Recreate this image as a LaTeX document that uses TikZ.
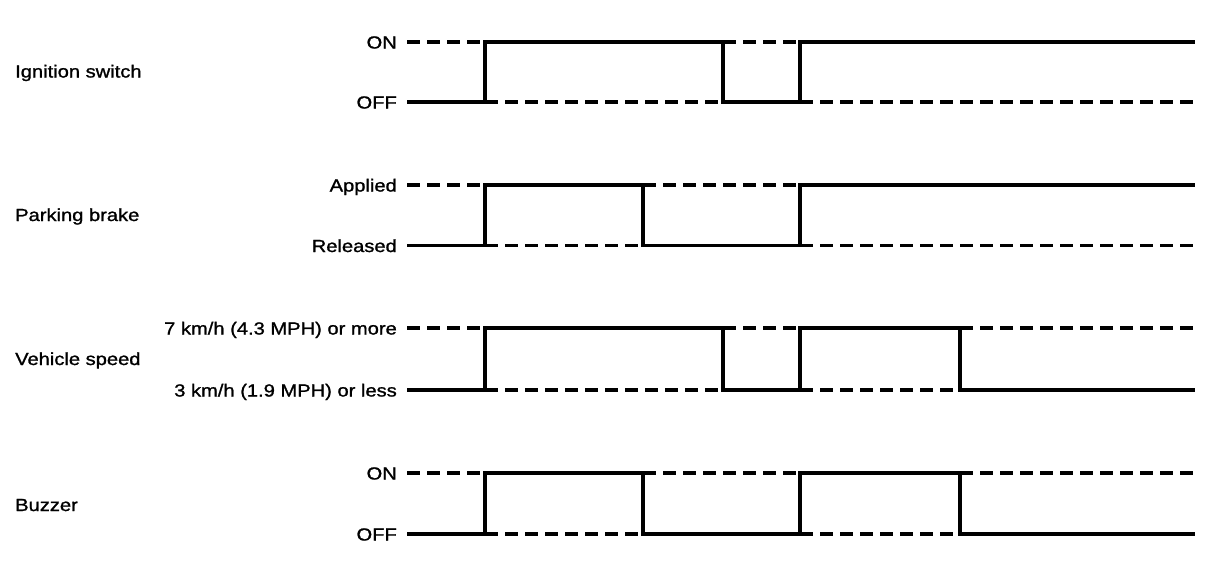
\documentclass[tikz,border=0pt]{standalone}
\usepackage{fontspec}
\setmainfont{Liberation Sans}[FakeStretch=1.15,FakeBold=1.2]
\begin{document}
\begin{tikzpicture}[x=1pt,y=-1pt,
	sig/.style={line width=3.3pt},
	lvl/.style={line width=3.3pt, dash pattern=on 13pt off 7pt},
	lvlname/.style={anchor=base east, inner sep=0pt, font=\fontsize{17.5}{20}\selectfont},
	signame/.style={anchor=base west, inner sep=0pt, font=\fontsize{17.5}{20}\selectfont}]
		\useasboundingbox (0,0) rectangle (1216,582);
		
		% ignition switch
		\node[signame] (ign) at (15,77.5) {Ignition switch};
		\node[lvlname] (ignon)  at (397,48.5)  {ON};
		\node[lvlname] (ignoff) at (397,108.5) {OFF};
		\draw[lvl] (407,42) -- (485,42);
		\draw[lvl] (723,42) -- (800,42);
		\draw[lvl] (485,102) -- (723,102);
		\draw[lvl] (800,102) -- (1195,102);
		\draw[sig] (407,102) -- (485,102) -- (485,42) -- (723,42) -- (723,102)
			-- (800,102) -- (800,42) -- (1195,42);
		
		% parking brake
		\node[signame] (pkb) at (15,221) {Parking brake};
		\node[lvlname] (pkbon)  at (397,191.5) {Applied};
		\node[lvlname] (pkboff) at (397,252)   {Released};
		\draw[lvl] (407,185) -- (485,185);
		\draw[lvl] (643,185) -- (800,185);
		\draw[lvl] (485,245.5) -- (643,245.5);
		\draw[lvl] (800,245.5) -- (1195,245.5);
		\draw[sig] (407,245.5) -- (485,245.5) -- (485,185) -- (643,185) -- (643,245.5)
			-- (800,245.5) -- (800,185) -- (1195,185);
		
		% vehicle speed
		\node[signame] (spd) at (15,365) {Vehicle speed};
		\node[lvlname] (spdhi) at (397,334.5) {7 km/h (4.3 MPH) or more};
		\node[lvlname] (spdlo) at (397,396.5) {3 km/h (1.9 MPH) or less};
		\draw[lvl] (407,328) -- (485,328);
		\draw[lvl] (723,328) -- (800,328);
		\draw[lvl] (960,328) -- (1195,328);
		\draw[lvl] (485,390) -- (723,390);
		\draw[lvl] (800,390) -- (960,390);
		\draw[sig] (407,390) -- (485,390) -- (485,328) -- (723,328) -- (723,390)
			-- (800,390) -- (800,328) -- (960,328) -- (960,390) -- (1195,390);
		
		% buzzer
		\node[signame] (buz) at (15,511) {Buzzer};
		\node[lvlname] (buzon)  at (397,479.5) {ON};
		\node[lvlname] (buzoff) at (397,540.5) {OFF};
		\draw[lvl] (407,473) -- (485,473);
		\draw[lvl] (643,473) -- (800,473);
		\draw[lvl] (960,473) -- (1195,473);
		\draw[lvl] (485,534) -- (643,534);
		\draw[lvl] (800,534) -- (960,534);
		\draw[sig] (407,534) -- (485,534) -- (485,473) -- (643,473) -- (643,534)
			-- (800,534) -- (800,473) -- (960,473) -- (960,534) -- (1195,534);
\end{tikzpicture}
\end{document}
